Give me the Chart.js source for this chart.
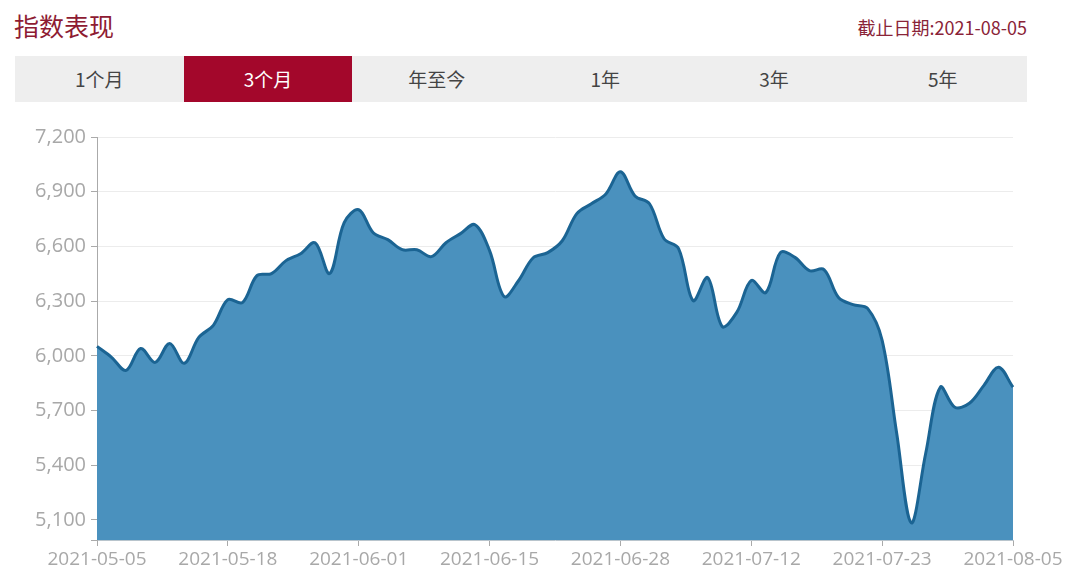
<!DOCTYPE html>
<html lang="zh-CN">
<head>
  <meta charset="UTF-8" />
  <script src="https://cdn.jsdelivr.net/npm/chart.js@4/dist/chart.umd.min.js"></script>
  <title>指数表现</title>
  <style>
    html, body { margin: 0; padding: 0; background: #fff; }
    body { width: 1080px; height: 579px; position: relative; overflow: hidden;
           font-family: "Noto Sans CJK SC", "Open Sans", sans-serif; }
    .title { position: absolute; left: 14px; top: 7px; font-size: 25px; color: #8e1b32; }
    .date { position: absolute; right: 53px; top: 14px; font-size: 18px; color: #8a2438; }
    .tabs { position: absolute; left: 15px; top: 56px; width: 1012px; height: 46px;
            background: #eeeeee; display: flex; }
    .tabs div { flex: 1; text-align: center; line-height: 46px; font-size: 19px; color: #444; }
    .tabs div.on { background: #a3072b; color: #fff; }
    .wrap { position: absolute; left: 0; top: 120px; width: 1080px; height: 459px; }
  </style>
</head>
<body>
  <div class="title">指数表现</div>
  <div class="date">截止日期:2021-08-05</div>
  <div class="tabs">
    <div>1个月</div><div class="on">3个月</div><div>年至今</div>
    <div>1年</div><div>3年</div><div>5年</div>
  </div>
  <div class="wrap"><canvas id="grafico"></canvas></div>

  <script>
    // dias de negociação (HK) de 2021-05-05 a 2021-08-05
    const dates = [
      "2021-05-05","2021-05-06","2021-05-07","2021-05-10","2021-05-11","2021-05-12","2021-05-13","2021-05-14","2021-05-17",
      "2021-05-18","2021-05-20","2021-05-21","2021-05-24","2021-05-25","2021-05-26","2021-05-27","2021-05-28","2021-05-31",
      "2021-06-01","2021-06-02","2021-06-03","2021-06-04","2021-06-07","2021-06-08","2021-06-09","2021-06-10","2021-06-11",
      "2021-06-15","2021-06-16","2021-06-17","2021-06-18","2021-06-21","2021-06-22","2021-06-23","2021-06-24","2021-06-25",
      "2021-06-28","2021-06-29","2021-06-30","2021-07-02","2021-07-05","2021-07-06","2021-07-07","2021-07-08","2021-07-09",
      "2021-07-12","2021-07-13","2021-07-14","2021-07-15","2021-07-16","2021-07-19","2021-07-20","2021-07-21","2021-07-22",
      "2021-07-23","2021-07-26","2021-07-27","2021-07-28","2021-07-29","2021-07-30","2021-08-02","2021-08-03","2021-08-04",
      "2021-08-05"
    ];
    const values = [
      6052, 5992, 5920, 6040, 5964, 6068, 5959, 6101, 6167,
      6308, 6292, 6440, 6451, 6522, 6560, 6620, 6451, 6730,
      6801, 6675, 6637, 6582, 6582, 6544, 6620, 6670, 6719,
      6577, 6325, 6413, 6538, 6566, 6631, 6780, 6834, 6888,
      7009, 6877, 6834, 6642, 6588, 6303, 6429, 6161, 6238,
      6413, 6347, 6566, 6540, 6467, 6473, 6320, 6281, 6260,
      6085, 5576, 5084, 5467, 5828, 5718, 5740, 5838, 5937,
      5828
    ];
    const yTicks = [5100, 5400, 5700, 6000, 6300, 6600, 6900, 7200];
    const yMin = 4990;
    const yMax = 7200;
    const labelEvery = 9;

    const ctx = document.getElementById("grafico").getContext("2d");
    new Chart(ctx, {
      type: "line",
      data: {
        labels: dates,
        datasets: [{
          data: values,
          fill: "start",
          backgroundColor: "#4a91be",
          borderColor: "#1b6493",
          borderWidth: 3,
          pointRadius: 0,
          tension: 0.35
        }]
      },
      options: {
        responsive: true,
        maintainAspectRatio: false,
        animation: false,
        layout: { padding: { top: 16, right: 67, left: 0, bottom: 0 } },
        plugins: {
          legend: { display: false },
          tooltip: { enabled: false }
        },
        scales: {
          x: {
            offset: false,
            afterFit: (scale) => { scale.height = 39; },
            border: { color: "#b8c4cc", width: 1 },
            grid: { drawOnChartArea: false, tickLength: 6, color: "#aaa" },
            ticks: {
              autoSkip: false,
              maxRotation: 0,
              color: "#a8a8a8",
              font: { family: "Open Sans", size: 19 },
              padding: 2,
              callback: function (v, i) {
                return i % labelEvery === 0 ? this.getLabelForValue(v) : null;
              }
            }
          },
          y: {
            min: yMin,
            max: yMax,
            afterFit: (scale) => { scale.width = 97; },
            afterBuildTicks: (scale) => {
              scale.ticks = [yMin, ...yTicks].map(v => ({ value: v }));
            },
            border: { color: "#aaa", width: 1 },
            grid: {
              color: (c) => c.tick && c.tick.value === yMin ? "rgba(0,0,0,0)" : "#ececec",
              tickColor: "#aaa",
              tickLength: 6
            },
            ticks: {
              color: "#a8a8a8",
              font: { family: "Open Sans", size: 20 },
              padding: 5,
              callback: (v) => v === yMin ? "" : v.toLocaleString("en-US")
            }
          }
        }
      }
    });
  </script>
</body>
</html>
